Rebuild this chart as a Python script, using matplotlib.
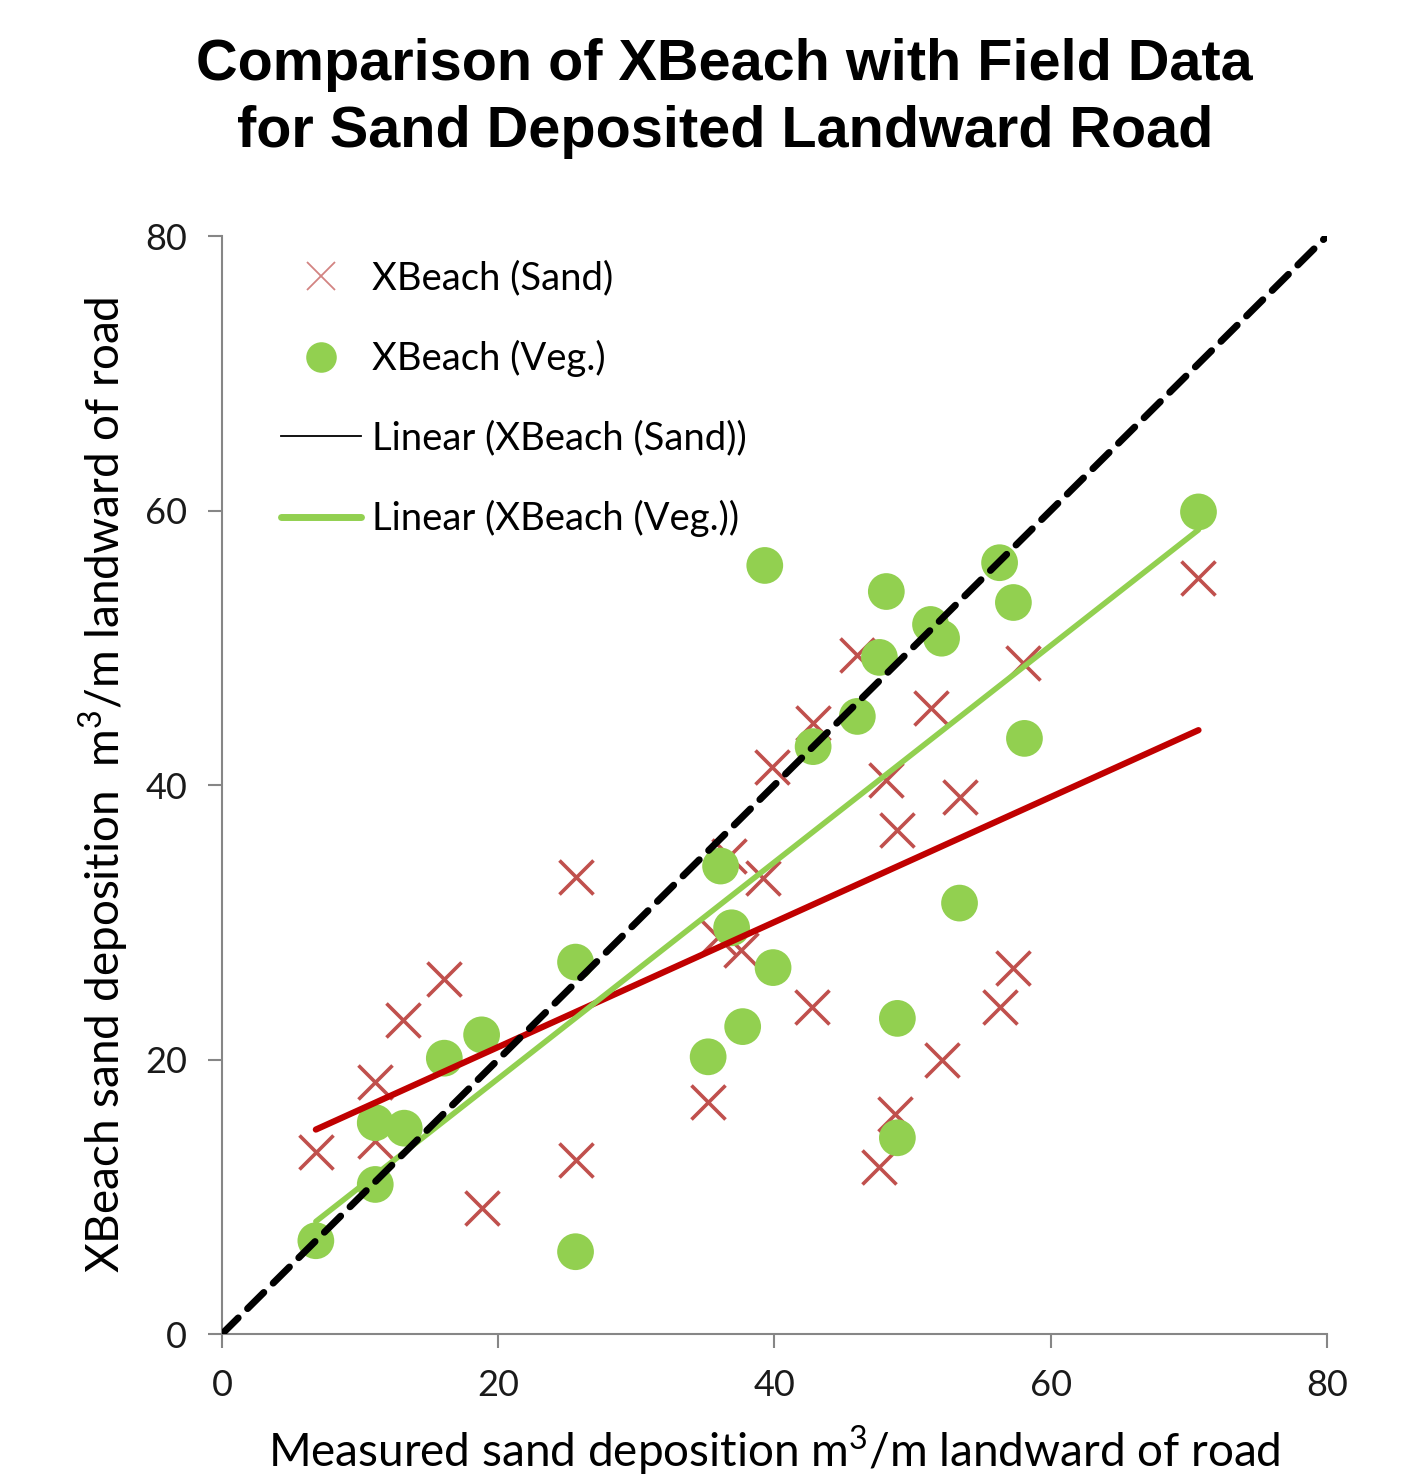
import numpy as np
import matplotlib
matplotlib.use('Agg')
import matplotlib.pyplot as plt
from matplotlib.lines import Line2D

####################################################################################

FIGURE_XSIZE = 14.10
FIGURE_YSIZE = 14.79
DPI = 100

SAND_RGB = '#C0504D'
VEG_RGB = '#92D050'
SAND_TREND_RGB = '#C00000'
AXIS_RGB = '#868686'

LABEL_FONT = 'Lato'
TITLE_FONT = 'Liberation Sans'

matplotlib.rcParams['mathtext.fontset'] = 'custom'
matplotlib.rcParams['mathtext.rm'] = LABEL_FONT

####################################################################################

# XBeach (Sand): measured vs modelled deposition
sand_measured = [6.8, 11.1, 11.1, 13.1, 16.1, 18.8, 25.6, 25.6, 35.2, 35.9,
                 36.7, 37.6, 39.2, 39.8, 42.7, 42.8, 46.0, 47.6, 48.1, 48.7,
                 48.9, 51.3, 52.1, 53.4, 56.3, 57.3, 58.0, 70.7]
sand_xbeach = [13.3, 18.4, 14.1, 22.9, 25.9, 9.2, 33.3, 12.7, 16.9, 28.9,
               34.8, 28.0, 33.2, 41.3, 23.8, 44.5, 49.5, 12.2, 40.4, 16.0,
               36.7, 45.6, 20.0, 39.1, 23.8, 26.7, 48.9, 55.1]

# XBeach (Veg.)
veg_measured = [6.8, 11.1, 11.1, 13.2, 16.1, 18.8, 25.6, 25.6, 35.2, 36.1,
                36.9, 37.7, 39.3, 39.9, 42.8, 46.0, 47.6, 48.1, 48.9, 48.9,
                51.3, 52.1, 53.4, 56.3, 57.3, 58.1, 70.7]
veg_xbeach = [6.8, 10.9, 15.4, 15.0, 20.1, 21.8, 27.1, 6.0, 20.2, 34.1,
              29.6, 22.4, 56.0, 26.7, 42.8, 45.0, 49.3, 54.1, 23.0, 14.3,
              51.7, 50.7, 31.4, 56.2, 53.3, 43.4, 59.9]

# trendline ends (x, y)
sand_trend_x = [6.8, 70.7]
sand_trend_y = [14.9, 44.0]
veg_trend_x = [6.8, 70.7]
veg_trend_y = [8.2, 58.6]

one_to_one = [0, 80]
ticks = [0, 20, 40, 60, 80]

####################################################################################

figure = plt.figure(figsize=(FIGURE_XSIZE, FIGURE_YSIZE), dpi=DPI, facecolor='white')
axes = figure.add_axes([0.1574, 0.098, 0.7837, 0.7424])

axes.plot(one_to_one, one_to_one, color='black', linewidth=5, linestyle=(0, (3.3, 1.9)),
          dash_capstyle='round', zorder=4)
axes.plot(sand_trend_x, sand_trend_y, color=SAND_TREND_RGB, linewidth=4.5,
          solid_capstyle='round', zorder=3)
axes.plot(veg_trend_x, veg_trend_y, color=VEG_RGB, linewidth=4,
          solid_capstyle='round', zorder=3)
axes.scatter(sand_measured, sand_xbeach, marker='x', s=600, linewidths=2.6,
             color=SAND_RGB, zorder=2)
axes.scatter(veg_measured, veg_xbeach, marker='o', s=700, color=VEG_RGB,
             edgecolors='none', zorder=2)

axes.set_xlim(0, 80)
axes.set_ylim(0, 80)
axes.set_xticks(ticks)
axes.set_yticks(ticks)
for side in ['top', 'right']:
    axes.spines[side].set_visible(False)
for side in ['left', 'bottom']:
    axes.spines[side].set_color(AXIS_RGB)
    axes.spines[side].set_linewidth(1.5)
axes.tick_params(colors=AXIS_RGB, width=1.5, length=10, direction='out',
                 labelcolor='#1a1a1a', labelsize=26, pad=15)
for label in axes.get_xticklabels() + axes.get_yticklabels():
    label.set_family(LABEL_FONT)

axes.set_xlabel('Measured sand deposition m$^3$/m landward of road',
                fontsize=33, family=LABEL_FONT, labelpad=16)
axes.set_ylabel('XBeach sand deposition  m$^3$/m landward of road',
                fontsize=33, family=LABEL_FONT, labelpad=10)

figure.text(0.514, 0.974, 'Comparison of XBeach with Field Data\nfor Sand Deposited Landward Road',
            ha='center', va='top', fontsize=41.5, fontweight='bold', family=TITLE_FONT,
            linespacing=1.3)

handles = [
    Line2D([], [], marker='x', color=SAND_RGB, linestyle='none', markersize=20,
           markeredgewidth=1.3, alpha=0.7),
    Line2D([], [], marker='o', color=VEG_RGB, linestyle='none', markersize=22,
           markeredgewidth=0),
    Line2D([], [], color='black', linewidth=1.3),
    Line2D([], [], color=VEG_RGB, linewidth=5, solid_capstyle='round'),
]
labels = ['XBeach (Sand)', 'XBeach (Veg.)', 'Linear (XBeach (Sand))', 'Linear (XBeach (Veg.))']
axes.legend(handles, labels, loc='upper left', bbox_to_anchor=(0.022, 1.009), frameon=False,
            prop={'family': LABEL_FONT, 'size': 27.5}, handlelength=2.1, handletextpad=0.3,
            labelspacing=1.14)

figure.savefig('out.png', dpi=DPI, facecolor='white')
